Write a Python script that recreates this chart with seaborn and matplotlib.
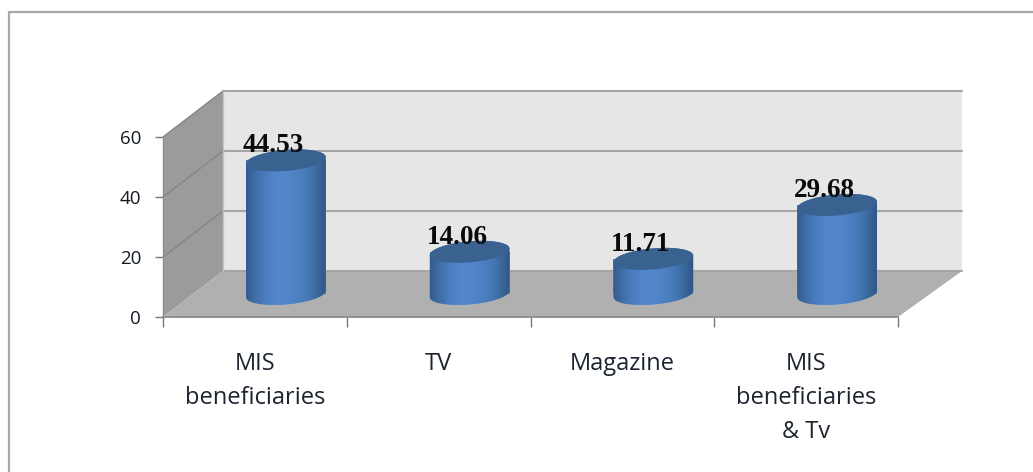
import numpy as np
import matplotlib
matplotlib.use("Agg")
import matplotlib.pyplot as plt
import matplotlib.transforms as mt
from matplotlib.patches import Polygon, PathPatch
from matplotlib.path import Path
from matplotlib.colors import LinearSegmentedColormap
import seaborn as sns

categories = ["MIS\nbeneficiaries", "TV", "Magazine", "MIS\nbeneficiaries\n& Tv"]
values = [44.53, 14.06, 11.71, 29.68]
labels = ["44.53", "14.06", "11.71", "29.68"]
y_ticks = [0, 20, 40, 60]

W, H = 1033, 472
sns.set_theme(style="white")
plt.rcParams["font.family"] = ["Open Sans", "DejaVu Sans"]
fig = plt.figure(figsize=(W / 100, H / 100), dpi=100, facecolor="white")
ax = fig.add_axes([163 / W, 1 - 317 / H, 735 / W, 180 / H])
ax.patch.set_visible(False)

sns.barplot(x=categories, y=values, ax=ax, color="#4f81bd", width=80 / 183.75,
            saturation=1, zorder=5, linewidth=0)
bars = list(ax.patches)
ax.set_xlim(-0.5, 3.5)
ax.set_ylim(0, 60)
ax.set_yticks(y_ticks)

mid = mt.Affine2D().translate(31, 23)
ident = mt.IdentityTransform()
left = ax.transData.transform((-0.5, 0))
top = ax.transData.transform((-0.5, 60))
right = ax.transData.transform((3.5, 0))
bk_l = np.array([60, 46])
bk_r = np.array([64, 46])

# back wall, side wall, floor
ax.add_patch(Polygon([left + bk_l, right + bk_r, right + bk_r + (top - left), top + bk_l], closed=True,
                     fc="#e6e6e6", ec="none", transform=ident, zorder=0, clip_on=False))
ax.add_patch(Polygon([left, top, top + bk_l, left + bk_l], closed=True, fc="#9b9b9b", ec="none",
                     transform=ident, zorder=0, clip_on=False))
ax.add_patch(Polygon([left, right, right + bk_r, left + bk_l], closed=True, fc="#b0b0b0",
                     ec="none", transform=ident, zorder=0, clip_on=False))

for v in y_ticks:
    p = ax.transData.transform((-0.5, v))
    q = ax.transData.transform((3.5, v))
    ax.plot([p[0] + 60, q[0] + 64], [p[1] + 46, q[1] + 46], transform=ident, color="#a6a6a6", lw=1.5,
            zorder=1, clip_on=False)
    if v:
        ax.plot([p[0], p[0] + 60], [p[1], p[1] + 46], transform=ident, color="#858585", lw=1.0,
                zorder=1, clip_on=False)
ax.plot([left[0] + 60, left[0] + 60], [left[1] + 46, top[1] + 46], transform=ident, color="#c4c4c4", lw=1.0,
        zorder=1, clip_on=False)

# cylinders
cmap = LinearSegmentedColormap.from_list(
    "cyl", ["#33598c", "#3f6ea8", "#4b7ec0", "#5286ca", "#5286ca", "#4e82c4", "#477ab8", "#3b6a9f", "#2f5583"])
grad = np.linspace(0, 1, 256)[None, :]
rx, ry, tilt = 40.0, 10.5, np.radians(5.0)


def ell(c, a):
    x = rx * np.cos(a)
    y = ry * np.sin(a)
    return np.column_stack([c[0] + x * np.cos(tilt) - y * np.sin(tilt),
                            c[1] + x * np.sin(tilt) + y * np.cos(tilt)])


for bar, v, lab in zip(bars, values, labels):
    bar.set_transform(ax.transData + mid)
    cx = bar.get_x() + bar.get_width() / 2
    c0 = (ax.transData + mid).transform((cx, 0))
    c1 = (ax.transData + mid).transform((cx, v))
    low = ell(c0, np.linspace(np.pi, 2 * np.pi, 60))
    up = ell(c1, np.linspace(0, np.pi, 60))
    body = Path(np.vstack([low, up, low[:1]]), closed=True)
    im = ax.imshow(grad, extent=(c0[0] - rx - 1, c0[0] + rx + 1, c0[1] - 20, c1[1] + 20), transform=ident,
                   aspect="auto", cmap=cmap, zorder=6, interpolation="bilinear")
    im.set_clip_path(PathPatch(body, transform=ident))
    ax.add_patch(Polygon(ell(c1, np.linspace(0, 2 * np.pi, 90)), closed=True, fc="#3a6291", ec="none",
                         transform=ident, zorder=7, clip_on=False))
    ax.annotate(lab, (cx, v), xytext=(18.5, 37.5), textcoords="offset pixels", ha="center", va="center",
                fontsize=19.5, family="Liberation Serif", fontweight="bold", color="#0a0a0a", zorder=8,
                annotation_clip=False)

ax.set_xlim(-0.5, 3.5)
ax.set_ylim(0, 60)
ax.set_aspect("auto")
for s in ax.spines.values():
    s.set_visible(False)
ax.spines["bottom"].set_visible(True)
ax.spines["bottom"].set_color("#8c8c8c")
ax.spines["bottom"].set_linewidth(1.3)
ax.spines["left"].set_visible(True)
ax.spines["left"].set_color("#8c8c8c")
ax.spines["left"].set_linewidth(1.0)
ax.set_xticks(np.arange(4))
ax.set_xticks(np.arange(-0.5, 4), minor=True)
ax.tick_params(axis="x", which="minor", length=7.5, width=1, color="#777777", bottom=True)
ax.tick_params(axis="x", which="major", length=0, pad=25, labelsize=17, labelcolor="#1c2430")
ax.tick_params(axis="y", length=5.8, width=1, color="#777777", left=True, pad=10, labelsize=13.5,
               labelcolor="#141a24")
for tl in ax.get_xticklabels():
    tl.set_linespacing(1.55)

# outer frame: left and top edges only
fc = "#a8a8a8"
fig.add_artist(plt.Line2D([9 / W, 9 / W, 1], [0, 1 - 12 / H, 1 - 12 / H], color=fc, lw=1.6))
fig.savefig("out.png", dpi=100)
